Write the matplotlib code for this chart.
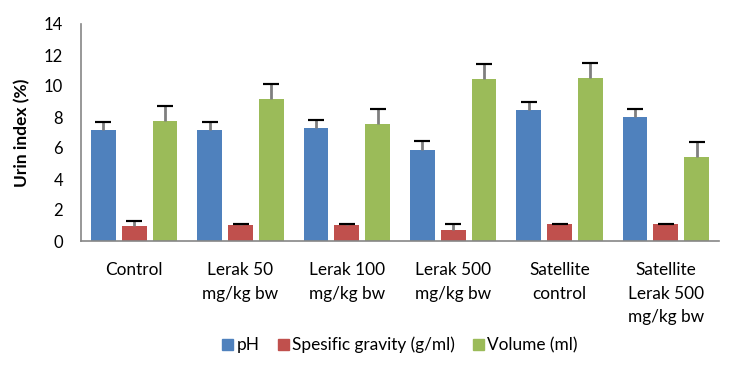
import numpy as np
import matplotlib
matplotlib.use("Agg")
import matplotlib.pyplot as plt
from matplotlib.patches import Patch

groups = ["Control", "Lerak 50\nmg/kg bw", "Lerak 100\nmg/kg bw", "Lerak 500\nmg/kg bw",
          "Satellite\ncontrol", "Satellite\nLerak 500\nmg/kg bw"]
series = ["pH", "Spesific gravity (g/ml)", "Volume (ml)"]
ph = [7.16, 7.16, 7.29, 5.87, 8.45, 8.0]
ph_err = [0.5, 0.5, 0.5, 0.56, 0.5, 0.5]
sg = [0.97, 1.03, 1.03, 0.71, 1.1, 1.1]
sg_err = [0.32, 0.05, 0.05, 0.36, 0.02, 0.02]
vol = [7.74, 9.16, 7.55, 10.45, 10.52, 5.42]
vol_err = [0.95, 1.0, 0.95, 1.0, 0.95, 0.95]
colors = ["#4F81BD", "#C0504D", "#9BBB59"]
txtfont = "Lato"

fig = plt.figure(figsize=(7.29, 3.67), dpi=100)
ax = fig.add_axes([81/729, 126/367, 638/729, 217/367])

x = np.arange(len(groups))
step = 0.29
width = 0.235
for i, (vals, errs) in enumerate([(ph, ph_err), (sg, sg_err), (vol, vol_err)]):
    xs = x + (i - 1) * step
    ax.bar(xs, vals, width, color=colors[i], zorder=2)
    # upper error bars only: grey stem, black cap
    ax.errorbar(xs, vals, yerr=[np.zeros(len(vals)), errs], fmt="none",
                ecolor="#7F7F7F", elinewidth=2, capsize=0, zorder=3)
    ax.errorbar(xs, np.array(vals) + np.array(errs), yerr=0, fmt="none",
                ecolor="black", capsize=6, capthick=1.5, elinewidth=0, zorder=4)

ax.set_xlim(-0.5, 5.5)
ax.set_ylim(0, 14)
ax.set_yticks(range(0, 15, 2))
ax.set_yticklabels([str(v) for v in range(0, 15, 2)], fontfamily=txtfont, fontsize=12)
ax.tick_params(axis="y", length=0, pad=13)
ax.tick_params(axis="x", length=0, pad=15)
ax.set_xticks(x)
ax.set_xticklabels(groups, fontfamily=txtfont, fontsize=12.4, linespacing=1.6)
for s in ["top", "right"]:
    ax.spines[s].set_visible(False)
for s in ["left", "bottom"]:
    ax.spines[s].set_color("#868686")
    ax.spines[s].set_linewidth(1.2)
ax.set_ylabel("Urin index (%)", fontweight="bold", fontsize=12.5, fontfamily=txtfont,
              labelpad=10)

handles = [Patch(color=c, label=l) for c, l in zip(colors, series)]
fig.legend(handles=handles, loc="center", bbox_to_anchor=(400/729, 1 - 345/367),
           ncol=3, frameon=False, prop={"family": txtfont, "size": 12.4},
           handlelength=0.64, handleheight=0.64, handletextpad=0.2, columnspacing=1.05)

fig.savefig("out.png", dpi=100)
